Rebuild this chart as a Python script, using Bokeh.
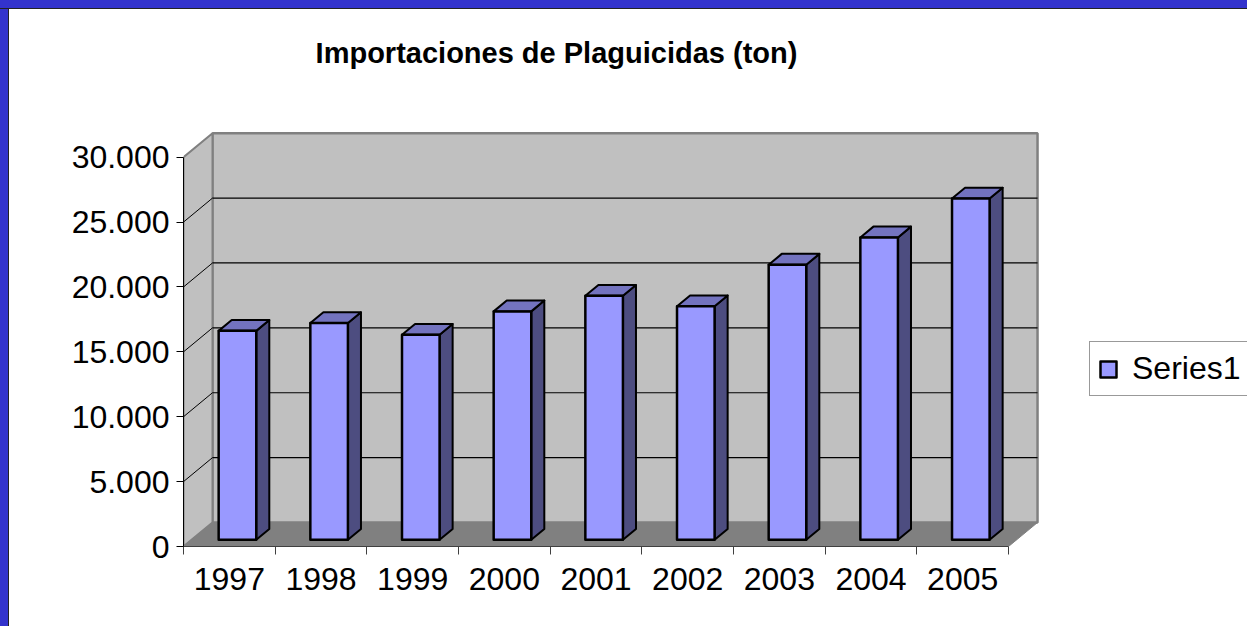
from bokeh.plotting import figure
from bokeh.models import Range1d, FixedTicker, Legend, LegendItem, Spacer, Label
from bokeh.layouts import column, row
from bokeh.embed import file_html
from bokeh.resources import INLINE

# ---------------- data ----------------
years = ["1997", "1998", "1999", "2000", "2001", "2002", "2003", "2004", "2005"]
imports_ton = [16100, 16700, 15800, 17600, 18800, 18000, 21200, 23300, 26300]
y_ticks = [0, 5000, 10000, 15000, 20000, 25000, 30000]
y_tick_labels = ["0", "5.000", "10.000", "15.000", "20.000", "25.000", "30.000"]
title_text = "Importaciones de Plaguicidas (ton)"
series_name = "Series1"

# ---------------- layout constants ----------------
N = len(years)
Y_MAX = y_ticks[-1]
W, H = 1238, 617
LEFT_B, BOTTOM_B = 174, 80
CAT_PX = 91.67                 # pixels per category
VAL_PX = 389.3 / Y_MAX         # pixels per value unit
X_END = (W - LEFT_B) / CAT_PX
Y_END = (H - BOTTOM_B) / VAL_PX
DX = 29 / CAT_PX               # 3D depth offset (category units)
DY = 24 / VAL_PX               # 3D depth offset (value units)
BAR_W = 0.41
F0, F1 = 0.28, 0.73            # bar depth extent (fraction of the box depth)
FONT = "Liberation Sans"
FRAME_BLUE = "#3333CC"

p = figure(width=W, height=H, output_backend="svg", toolbar_location=None,
           x_range=Range1d(0, X_END), y_range=Range1d(0, Y_END),
           min_border_left=LEFT_B, min_border_right=0,
           min_border_top=0, min_border_bottom=BOTTOM_B)
p.outline_line_color = None
p.background_fill_color = "white"
p.border_fill_color = "white"
p.xgrid.visible = False
p.ygrid.visible = False

# walls and floor
p.quad(left=DX, right=N + DX, bottom=DY, top=Y_MAX + DY,
       fill_color="#C0C0C0", line_color="#808080", line_width=2.5)
p.patch(x=[0, DX, DX, 0], y=[0, DY, Y_MAX + DY, Y_MAX],
        fill_color="#C0C0C0", line_color="#808080", line_width=2)
p.patch(x=[0, N, N + DX, DX], y=[0, 0, DY, DY],
        fill_color="#808080", line_color="#808080", line_width=1)

# gridlines (back wall + side wall)
gv = y_ticks[1:-1]
p.segment(x0=[DX] * len(gv), y0=[v + DY for v in gv],
          x1=[N + DX] * len(gv), y1=[v + DY for v in gv],
          line_color="black", line_width=1.2)
p.segment(x0=[0] * len(gv), y0=gv,
          x1=[DX] * len(gv), y1=[v + DY for v in gv],
          line_color="black", line_width=1)

# bars
cx = [i + 0.5 for i in range(N)]
left = [c - BAR_W / 2 + F0 * DX for c in cx]
right = [c + BAR_W / 2 + F0 * DX for c in cx]
bot = F0 * DY
top = [v + F0 * DY for v in imports_ton]
ddx = (F1 - F0) * DX
ddy = (F1 - F0) * DY

side_xs = [[r, r + ddx, r + ddx, r] for r in right]
side_ys = [[bot, bot + ddy, t + ddy, t] for t in top]
top_xs = [[l, r, r + ddx, l + ddx] for l, r in zip(left, right)]
top_ys = [[t, t, t + ddy, t + ddy] for t in top]

p.patches(xs=side_xs, ys=side_ys, fill_color="#4D4D80", line_color="black",
          line_width=2, line_join="round")
p.patches(xs=top_xs, ys=top_ys, fill_color="#7373BF", line_color="black",
          line_width=2, line_join="round")
front = p.quad(left=left, right=right, bottom=[bot] * N, top=top,
               fill_color="#9999FF", line_color="black", line_width=2.5,
               line_join="round")

# y axis
ya = p.yaxis[0]
ya.ticker = FixedTicker(ticks=y_ticks)
ya.major_label_overrides = {v: s for v, s in zip(y_ticks, y_tick_labels)}
ya.bounds = (0, Y_MAX)
ya.axis_line_color = "black"
ya.major_tick_line_color = "black"
ya.major_tick_in = 0
ya.major_tick_out = 7
ya.minor_tick_line_color = None
ya.major_label_standoff = 7
ya.major_label_text_font = FONT
ya.major_label_text_font_size = "32px"
ya.major_label_text_color = "black"

# x axis
xa = p.xaxis[0]
xa.ticker = FixedTicker(ticks=cx, minor_ticks=list(range(N + 1)))
xa.major_label_overrides = {c: y for c, y in zip(cx, years)}
xa.bounds = (0, N)
xa.axis_line_color = "#404040"
xa.major_tick_line_color = None
xa.major_tick_in = 0
xa.major_tick_out = 0
xa.minor_tick_line_color = "#404040"
xa.minor_tick_in = 0
xa.minor_tick_out = 8
xa.major_label_standoff = 13
xa.major_label_text_font = FONT
xa.major_label_text_font_size = "32px"
xa.major_label_text_color = "black"

# title (drawn above the 3D box, inside the extended frame)
title = Label(x=373 / CAT_PX, y=494 / VAL_PX, text=title_text,
              text_font=FONT, text_font_size="29px", text_font_style="bold",
              text_color="black", text_align="center",
              text_baseline="alphabetic")
p.add_layout(title)

# legend
legend = Legend(items=[LegendItem(label=series_name, renderers=[front])],
                location=(906, 150), orientation="vertical",
                border_line_color="#333333", border_line_width=1,
                background_fill_color="white", background_fill_alpha=1,
                label_text_font=FONT, label_text_font_size="32px",
                label_text_color="black",
                glyph_width=20, glyph_height=20, label_standoff=14,
                padding=8, margin=0)
p.add_layout(legend)

# blue slide frame (top and left edges, as in the reference crop)
top_bar = Spacer(width=W + 9, height=9,
                 styles={"background": f"linear-gradient(to bottom, {FRAME_BLUE} 0px, {FRAME_BLUE} 8px, #222 8px, #222 9px)"})
left_bar = Spacer(width=9, height=H,
                  styles={"background": f"linear-gradient(to right, {FRAME_BLUE} 0px, {FRAME_BLUE} 8px, #222 8px, #222 9px)"})
root = column(top_bar, row(left_bar, p, spacing=0), spacing=0)

open("out.html", "w").write(file_html(root, INLINE))
